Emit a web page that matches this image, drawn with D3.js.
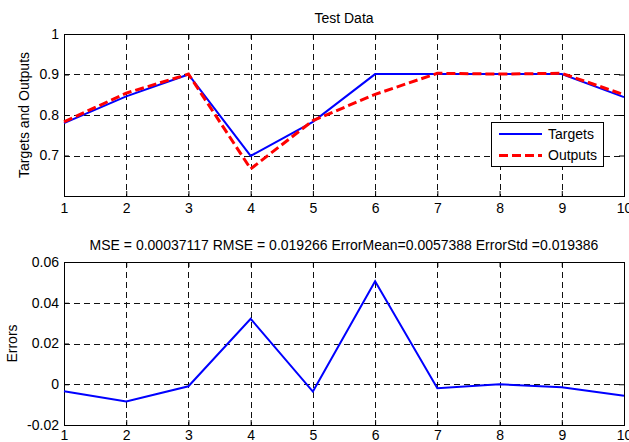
<html>
<head>
<script src="https://cdnjs.cloudflare.com/ajax/libs/d3/7.8.5/d3.min.js"></script>
<style>
  body { margin: 0; background: #fff; }
  text { font-family: "Liberation Sans", Arial, sans-serif; font-size: 14px; fill: #000; }
</style>
</head>
<body>
<script>
// data
var samples = [1, 2, 3, 4, 5, 6, 7, 8, 9, 10];
var targets = [0.780, 0.846, 0.900, 0.699, 0.783, 0.901, 0.901, 0.901, 0.901, 0.844];
var outputs = [0.783, 0.854, 0.901, 0.667, 0.786, 0.851, 0.903, 0.901, 0.903, 0.850];
var errors  = [-0.0034, -0.0084, -0.0010, 0.0321, -0.0036, 0.0506, -0.0020, 0.0000, -0.0015, -0.0056];
var topTicks = [0.7, 0.8, 0.9, 1];
var bottomTicks = [-0.02, 0, 0.02, 0.04, 0.06];
var topTitle = "Test Data";
var bottomTitle = "MSE = 0.00037117 RMSE = 0.019266 ErrorMean=0.0057388 ErrorStd =0.019386";

var viz = { width: 629, height: 442 };
var left = 64, right = 624;

var svg = d3.select("body").append("svg")
    .attr("width", viz.width)
    .attr("height", viz.height);

var x = d3.scaleLinear().domain([1, 10]).range([left, right]);

function fmt(d) { return String(d); }

// one subplot: box, grid, ticks, labels
function panel(top, bottom, domain, yTicks, title, titleY, ylabel, ylabelX, xPad) {
  var y = d3.scaleLinear().domain(domain).range([bottom, top]);
  var g = svg.append("g");

  // grid
  g.selectAll(".vgrid").data(samples.slice(1, -1)).enter().append("line")
    .attr("x1", function(d) { return Math.round(x(d)) + 0.5; })
    .attr("x2", function(d) { return Math.round(x(d)) + 0.5; })
    .attr("y1", top).attr("y2", bottom)
    .attr("stroke", "#111").attr("stroke-dasharray", "6,4");
  g.selectAll(".hgrid").data(yTicks.filter(function(d) { return d != domain[0] && d != domain[1]; }))
    .enter().append("line")
    .attr("x1", left).attr("x2", right)
    .attr("y1", function(d) { return Math.round(y(d)) + 0.5; })
    .attr("y2", function(d) { return Math.round(y(d)) + 0.5; })
    .attr("stroke", "#111").attr("stroke-dasharray", "6,4");

  // axes with inward ticks on all four sides
  g.append("g").attr("transform", "translate(0," + bottom + ")")
    .call(d3.axisBottom(x).tickValues(samples).tickFormat(fmt).tickSizeInner(-5).tickSizeOuter(0).tickPadding(xPad));
  g.append("g").attr("transform", "translate(" + left + ",0)")
    .call(d3.axisLeft(y).tickValues(yTicks).tickFormat(fmt).tickSizeInner(-5).tickSizeOuter(0).tickPadding(5));
  g.append("g").attr("transform", "translate(0," + top + ")")
    .call(d3.axisTop(x).tickValues(samples).tickFormat("").tickSizeInner(-5).tickSizeOuter(0));
  g.append("g").attr("transform", "translate(" + right + ",0)")
    .call(d3.axisRight(y).tickValues(yTicks).tickFormat("").tickSizeInner(-5).tickSizeOuter(0));
  g.selectAll(".domain").remove();
  g.selectAll(".tick line").attr("stroke", "#000");
  g.selectAll(".tick text").style("font-size", "14px").attr("font-family", "Liberation Sans, Arial, sans-serif");

  g.append("rect")
    .attr("x", left + 0.5).attr("y", top + 0.5)
    .attr("width", right - left).attr("height", bottom - top)
    .attr("fill", "none").attr("stroke", "#000");

  svg.append("text").attr("x", (left + right) / 2).attr("y", titleY)
    .attr("text-anchor", "middle").text(title);
  svg.append("text")
    .attr("transform", "translate(" + ylabelX + "," + (top + bottom) / 2 + ") rotate(-90)")
    .attr("text-anchor", "middle").text(ylabel);
  return y;
}

var y1 = panel(34, 196, [0.6, 1], topTicks, topTitle, 23, "Targets and Outputs", 29, 7.5);
var y2 = panel(262, 425, [-0.02, 0.06], bottomTicks, bottomTitle, 250, "Errors", 17, 5.5);

var line1 = d3.line().x(function(d, i) { return x(samples[i]); }).y(function(d) { return y1(d); });
var line2 = d3.line().x(function(d, i) { return x(samples[i]); }).y(function(d) { return y2(d); });

svg.append("path").attr("d", line1(targets))
  .attr("fill", "none").attr("stroke", "#0000ff").attr("stroke-width", 2);
svg.append("path").attr("d", line1(outputs))
  .attr("fill", "none").attr("stroke", "#ff0000").attr("stroke-width", 3)
  .attr("stroke-dasharray", "9,4");
svg.append("path").attr("d", line2(errors))
  .attr("fill", "none").attr("stroke", "#0000ff").attr("stroke-width", 2);

// legend
var legend = svg.append("g");
legend.append("rect").attr("x", 491.5).attr("y", 122.5).attr("width", 112).attr("height", 44)
  .attr("fill", "#fff").attr("stroke", "#000");
var items = [
  { name: "Targets", color: "#0000ff", width: 2, dash: null },
  { name: "Outputs", color: "#ff0000", width: 3, dash: "9,4" }
];
items.forEach(function(it, i) {
  var ly = 134 + i * 21.5;
  legend.append("line").attr("x1", 499).attr("x2", 542).attr("y1", ly).attr("y2", ly)
    .attr("stroke", it.color).attr("stroke-width", it.width).attr("stroke-dasharray", it.dash);
  legend.append("text").attr("x", 548).attr("y", ly).attr("dy", "0.35em").text(it.name);
});
</script>
</body>
</html>
